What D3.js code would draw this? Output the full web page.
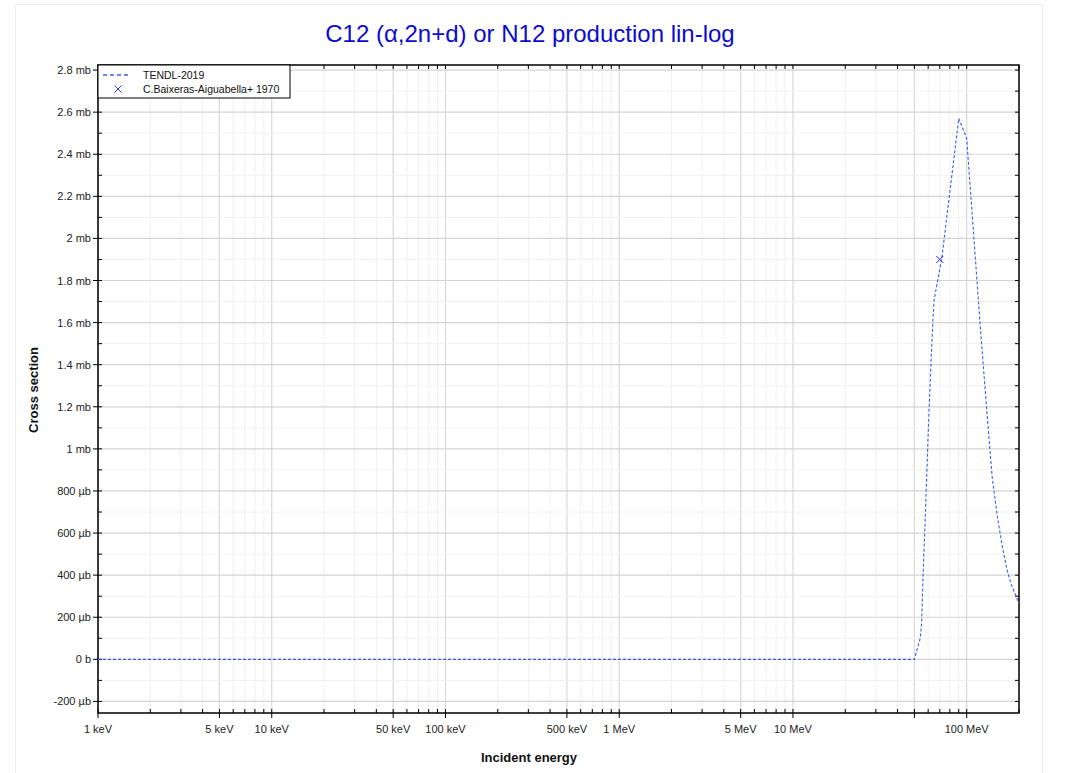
<!DOCTYPE html>
<html lang="en">
<head>
<meta charset="UTF-8">
<title>C12 (α,2n+d) or N12 production</title>
<script src="https://cdn.jsdelivr.net/npm/d3@7"></script>
<style>
  body { margin: 0; background: #fff; font-family: "Liberation Sans", Arial, sans-serif; }
  svg text { font-family: "Liberation Sans", Arial, sans-serif; }
</style>
</head>
<body>
<div id="chart"></div>
<script>
// TENDL-2019 evaluation, energy in MeV, cross section in mb
var tendlE  = [0.001, 1, 10, 50, 54, 55, 56, 57, 58, 60, 62, 64, 65, 72, 90, 100, 120, 130, 140, 150, 160, 170, 180, 190, 200];
var tendlXS = [0, 0, 0, 0, 0.10, 0.17, 0.38, 0.55, 0.72, 1.07, 1.37, 1.62, 1.71, 1.91, 2.57, 2.475, 1.57, 1.20, 0.87, 0.68, 0.54, 0.43, 0.358, 0.311, 0.265];
// EXFOR point
var expE  = [70];
var expXS = [1.90];

var xTickVals   = [0.001, 0.005, 0.01, 0.05, 0.1, 0.5, 1, 5, 10, 100];
var xTickLabels = ["1 keV", "5 keV", "10 keV", "50 keV", "100 keV", "500 keV", "1 MeV", "5 MeV", "10 MeV", "100 MeV"];
var yTickVals   = [-0.2, 0, 0.2, 0.4, 0.6, 0.8, 1, 1.2, 1.4, 1.6, 1.8, 2, 2.2, 2.4, 2.6, 2.8];

var W = 1067, H = 773;
var L = 98, R = 1019, T = 65, B = 713;

var svg = d3.select("#chart").append("svg").attr("width", W).attr("height", H);

// faint frame around the whole figure
svg.append("rect").attr("x", 15.5).attr("y", 4.5).attr("width", 1027).attr("height", 780)
   .attr("fill", "none").attr("stroke", "#eeeeee");

var x = d3.scaleLog().domain([0.001, 200]).range([L, R]);
var y = d3.scaleLinear().domain([-0.255, 2.824]).range([B, T]);

// all log ticks 1..9 per decade
var minorX = [];
for (var p = -3; p <= 2; p++) {
  for (var m = 1; m <= 9; m++) {
    var v = m * Math.pow(10, p);
    if (v >= 0.001 && v <= 200.0001) minorX.push(v);
  }
}
var minorY = d3.range(-2, 29).map(function(i) { return i / 10; });

function mant(d) {
  return Math.round(d / Math.pow(10, Math.floor(Math.log10(d) + 1e-9)));
}

var grid = svg.append("g");
grid.selectAll(".vg").data(minorX).enter().append("line")
  .attr("x1", function(d) { return x(d); }).attr("x2", function(d) { return x(d); })
  .attr("y1", T).attr("y2", B)
  .attr("stroke", function(d) { return (mant(d) === 1 || mant(d) === 5) ? "#d8d8d8" : "#f0f0f0"; })
  .attr("stroke-width", function(d) { return (mant(d) === 1 || mant(d) === 5) ? 1.2 : 1; });
grid.selectAll(".hg").data(minorY).enter().append("line")
  .attr("x1", L).attr("x2", R)
  .attr("y1", function(d) { return y(d); }).attr("y2", function(d) { return y(d); })
  .attr("stroke", function(d, i) { return (i % 2 === 0) ? "#d4d4d4" : "#f0f0f0"; })
  .attr("stroke-width", function(d, i) { return (i % 2 === 0) ? 1.2 : 1; });

// ticks
var ticks = svg.append("g").attr("stroke", "#000");
minorX.forEach(function(d) {
  var major = (mant(d) === 1 || mant(d) === 5);
  ticks.append("line").attr("x1", x(d)).attr("x2", x(d))
    .attr("y1", major ? B + 5 : B).attr("y2", B - 4);
  ticks.append("line").attr("x1", x(d)).attr("x2", x(d))
    .attr("y1", T).attr("y2", T + 4);
});
minorY.forEach(function(d, i) {
  var major = (i % 2 === 0);
  ticks.append("line").attr("x1", major ? L - 5 : L).attr("x2", L + 4)
    .attr("y1", y(d)).attr("y2", y(d));
  ticks.append("line").attr("x1", R - 4).attr("x2", R)
    .attr("y1", y(d)).attr("y2", y(d));
});

// frame
svg.append("rect").attr("x", L).attr("y", T).attr("width", R - L).attr("height", B - T)
  .attr("fill", "none").attr("stroke", "#000").attr("stroke-width", 1.5);

// tick labels
svg.append("g").selectAll("text").data(xTickVals).enter().append("text")
  .attr("x", function(d) { return x(d); }).attr("y", B + 20)
  .attr("text-anchor", "middle").attr("font-size", 11).attr("fill", "#222")
  .text(function(d, i) { return xTickLabels[i]; });

function fmtY(v) {
  if (Math.abs(v) < 1e-9) return "0 b";
  if (Math.abs(v) < 1) return Math.round(v * 1000) + " µb";
  return (+v.toFixed(1)) + " mb";
}
svg.append("g").selectAll("text").data(yTickVals).enter().append("text")
  .attr("x", L - 7).attr("y", function(d) { return y(d) + 4; })
  .attr("text-anchor", "end").attr("font-size", 11).attr("fill", "#222")
  .text(fmtY);

// titles
svg.append("text").attr("x", 530).attr("y", 42).attr("text-anchor", "middle")
  .attr("font-size", 24).attr("fill", "#0a0ad0")
  .text("C12 (α,2n+d) or N12 production lin-log");
svg.append("text").attr("x", 529).attr("y", 762).attr("text-anchor", "middle")
  .attr("font-size", 13).attr("font-weight", "bold").attr("fill", "#111")
  .text("Incident energy");
svg.append("text").attr("transform", "translate(38," + 390 + ") rotate(-90)")
  .attr("text-anchor", "middle").attr("font-size", 13).attr("font-weight", "bold").attr("fill", "#111")
  .text("Cross section");

// data
var plot = svg.append("g");
var line = d3.line()
  .x(function(d) { return x(d[0]); })
  .y(function(d) { return y(d[1]); });
plot.append("path")
  .datum(tendlE.map(function(e, i) { return [e, tendlXS[i]]; }))
  .attr("d", line).attr("fill", "none")
  .attr("stroke", "#3a5ee8").attr("stroke-width", 1.1).attr("stroke-dasharray", "3,2");

var s = 3.5;
expE.forEach(function(e, i) {
  var cx = x(e), cy = y(expXS[i]);
  plot.append("path")
    .attr("d", "M" + (cx - s) + "," + (cy - s) + "L" + (cx + s) + "," + (cy + s) +
               "M" + (cx - s) + "," + (cy + s) + "L" + (cx + s) + "," + (cy - s))
    .attr("stroke", "#3030ff").attr("stroke-width", 1).attr("fill", "none");
});

// legend
var lg = svg.append("g");
lg.append("rect").attr("x", L).attr("y", T).attr("width", 192).attr("height", 33)
  .attr("fill", "#fff").attr("stroke", "#000").attr("stroke-width", 1);
lg.append("line").attr("x1", 103).attr("x2", 130).attr("y1", 75).attr("y2", 75)
  .attr("stroke", "#3a5ee8").attr("stroke-width", 1.5).attr("stroke-dasharray", "4,3");
lg.append("text").attr("x", 143).attr("y", 78.5).attr("font-size", 10.5).attr("fill", "#111").text("TENDL-2019");
lg.append("path")
  .attr("d", "M114.5,85.5L121.5,92.5M114.5,92.5L121.5,85.5")
  .attr("stroke", "#3030ff").attr("stroke-width", 1).attr("fill", "none");
lg.append("text").attr("x", 143).attr("y", 92.5).attr("font-size", 10.5).attr("fill", "#111").text("C.Baixeras-Aiguabella+ 1970");
</script>
</body>
</html>
